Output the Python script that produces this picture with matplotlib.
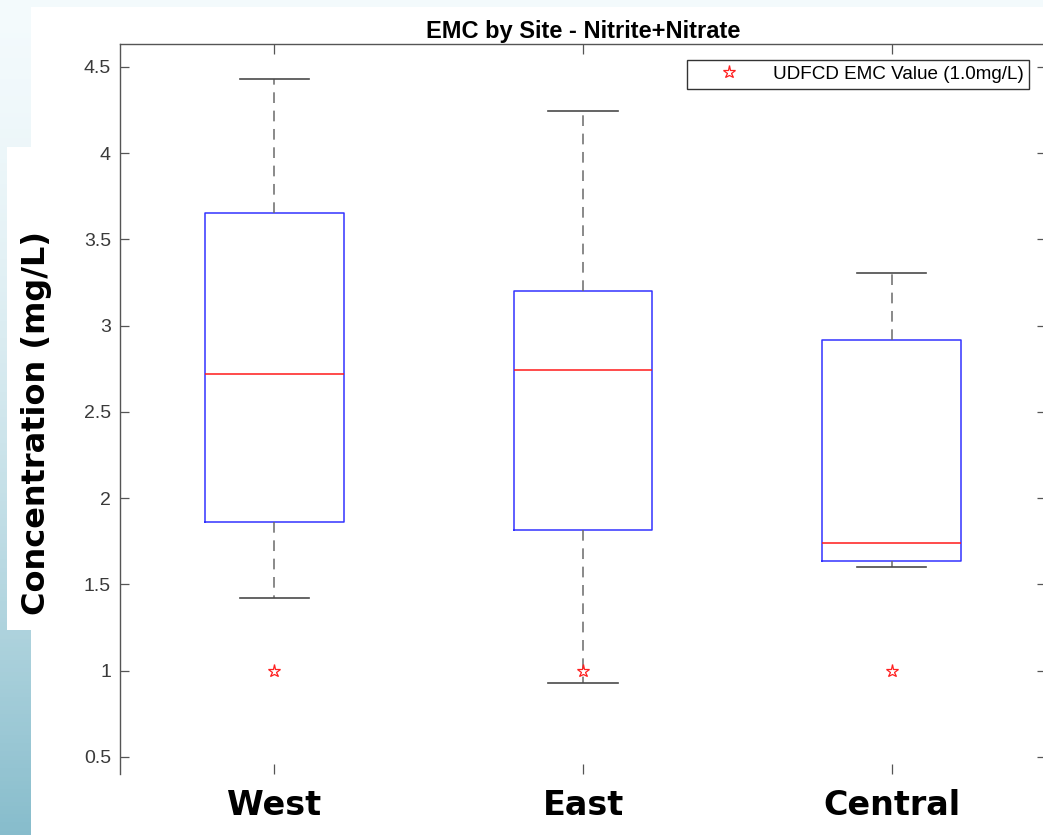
import numpy as np
import matplotlib
matplotlib.use("Agg")
import matplotlib.pyplot as plt
from matplotlib.patches import Rectangle
from matplotlib.lines import Line2D

# === 1. Data ===
sites = ["West", "East", "Central"]
q1 = [1.863, 1.812, 1.638]
median = [2.72, 2.745, 1.739]
q3 = [3.654, 3.203, 2.917]
whis_lo = [1.419, 0.925, 1.603]
whis_hi = [4.43, 4.247, 3.308]
udfcd_emc = [1.0, 1.0, 1.0]
y_ticks = [0.5, 1, 1.5, 2, 2.5, 3, 3.5, 4, 4.5]
y_tick_labels = ["0.5", "1", "1.5", "2", "2.5", "3", "3.5", "4", "4.5"]

W, H = 1043, 835
fig = plt.figure(figsize=(W / 100, H / 100), dpi=100)

# === 2. Slide background (blue gradient + white panel) ===
bg = fig.add_axes([0, 0, 1, 1])
bg.set_axis_off()
top_c = np.array([0.955, 0.982, 0.99])
bot_c = np.array([0.53, 0.74, 0.80])
t = np.linspace(0, 1, 200)[:, None]
grad = (top_c[None, :] * (1 - t ** 1.6) + bot_c[None, :] * t ** 1.6)[:, None, :]
bg.imshow(grad, aspect="auto", extent=[0, 1, 0, 1], origin="upper")
bg.set_xlim(0, 1)
bg.set_ylim(0, 1)
bg.add_patch(Rectangle((31 / W, 0), 1 - 31 / W, 1 - 7 / H, color="white", lw=0))
bg.add_patch(Rectangle((7 / W, 1 - 630 / H), 26 / W, (630 - 147) / H, color="white", lw=0))

# === 3. Box plot ===
ax = fig.add_axes([120 / W, 1 - 774 / H, (1046 - 120) / W, (774 - 44) / H])
stats = []
for i in range(len(sites)):
    stats.append({"label": sites[i], "q1": q1[i], "med": median[i], "q3": q3[i],
                  "whislo": whis_lo[i], "whishi": whis_hi[i], "fliers": []})

ax.bxp(stats, positions=[1, 2, 3], widths=0.45, capwidths=0.225, showfliers=False,
       boxprops=dict(color="#3333ff", linewidth=1.1),
       medianprops=dict(color="#ff1a1a", linewidth=1.1),
       whiskerprops=dict(color="#6a6a6a", linewidth=1.1, linestyle=(0, (7, 5))),
       capprops=dict(color="#4a4a4a", linewidth=1.2))

ax.plot([1, 2, 3], udfcd_emc, linestyle="none", marker="*", markersize=9.5,
        markerfacecolor="none", markeredgecolor="#ff2020", markeredgewidth=0.9)

ax.set_xlim(0.5, 3.5)
ax.set_ylim(0.40, 4.633)
ax.set_yticks(y_ticks)
ax.set_yticklabels(y_tick_labels, fontfamily="Liberation Sans", fontsize=14, color="#3a3a3a")
ax.set_xticks([1, 2, 3])
ax.set_xticklabels(sites, fontfamily="DejaVu Sans", fontweight="bold", fontsize=24, color="black")

ax.tick_params(axis="y", direction="in", length=6.5, width=0.9, color="#555555",
               left=True, right=True, pad=6.5)
ax.tick_params(axis="x", direction="in", length=7, width=0.9, color="#555555",
               top=True, bottom=True, pad=11)
for side in ["left", "top", "right"]:
    ax.spines[side].set_color("#555555")
    ax.spines[side].set_linewidth(1.0)
ax.spines["bottom"].set_visible(False)

ax.set_title("EMC by Site - Nitrite+Nitrate", fontfamily="Liberation Sans",
             fontweight="bold", fontsize=17, pad=4)

# legend
handle = Line2D([], [], linestyle="none", marker="*", markersize=9.5,
                markerfacecolor="none", markeredgecolor="#ff2020", markeredgewidth=0.9)
leg = ax.legend([handle], ["UDFCD EMC Value (1.0mg/L)"], loc="upper right",
                bbox_to_anchor=(1029 / W, 1 - 60 / H), bbox_transform=fig.transFigure,
                borderaxespad=0, fancybox=False, framealpha=1, edgecolor="#333333",
                prop={"family": "Liberation Sans", "size": 13.6},
                borderpad=0.3, handlelength=3.9, handletextpad=0.35)
leg.get_frame().set_linewidth(1.0)

# big y label from the slide
fig.text(37 / W, 1 - 423 / H, "Concentration (mg/L)", rotation=90, ha="center", va="center",
         fontfamily="DejaVu Sans", fontweight="bold", fontsize=23, color="black")

fig.savefig("out.png", dpi=100)
